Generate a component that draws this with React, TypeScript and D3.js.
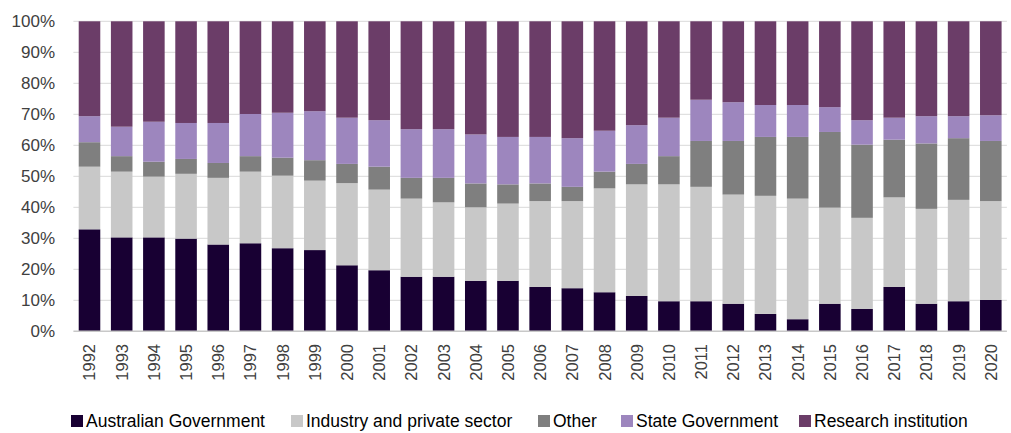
import React from "react";
import * as d3 from "d3";

const years = ["1992","1993","1994","1995","1996","1997","1998","1999","2000","2001","2002","2003","2004","2005","2006","2007","2008","2009","2010","2011","2012","2013","2014","2015","2016","2017","2018","2019","2020"];

const australianGovernment = [32.9,30.3,30.3,29.9,28.0,28.4,26.8,26.2,21.3,19.7,17.6,17.6,16.3,16.3,14.3,13.9,12.6,11.4,9.7,9.7,8.9,5.6,3.9,8.9,7.2,14.3,8.9,9.7,10.1];
const industryPrivate = [20.2,21.2,19.6,20.9,21.5,23.1,23.4,22.4,26.5,26.0,25.2,24.0,23.7,24.9,27.7,28.1,33.5,36.0,37.7,36.9,35.2,38.1,38.9,31.0,29.4,28.9,30.6,32.7,31.9];
const other = [7.9,5.0,4.8,4.8,4.8,5.0,5.8,6.6,6.2,7.4,6.7,7.9,7.7,6.2,5.7,4.6,5.4,6.6,9.1,14.8,17.3,19.0,19.9,24.4,23.6,18.6,21.1,19.9,19.4];
const stateGovernment = [8.4,9.5,12.9,11.6,12.9,13.6,14.5,15.8,14.9,15.0,15.7,15.7,15.8,15.3,15.0,15.7,13.2,12.5,12.4,13.3,12.5,10.3,10.3,8.0,7.9,7.1,8.8,7.1,8.3];
const researchInstitution = [30.6,34.0,32.4,32.8,32.8,29.9,29.5,29.0,31.1,31.9,34.8,34.8,36.5,37.3,37.3,37.7,35.3,33.5,31.1,25.3,26.1,27.0,27.0,27.7,31.9,31.1,30.6,30.6,30.3];

const seriesNames = ["Australian Government","Industry and private sector","Other","State Government","Research institution"];
const seriesColors = ["#180033","#c8c8c8","#7f7f7f","#9d86be","#6b3d68"];
const yTicks = [0,10,20,30,40,50,60,70,80,90,100];

const W = 1011, H = 433;
const left = 73.4, right = 1006.9, top = 21.3, bottom = 331.3;
const legendX = [71, 291, 538, 621, 799];
const FONT = "'Liberation Sans', Arial, sans-serif";

export default function App() {
  const seriesValues = [australianGovernment, industryPrivate, other, stateGovernment, researchInstitution];
  const rows = years.map((y, i) => {
    const r: any = { year: y };
    seriesNames.forEach((n, k) => (r[n] = seriesValues[k][i]));
    return r;
  });
  const stacked = d3.stack().keys(seriesNames).offset(d3.stackOffsetExpand)(rows as any);
  const x = d3.scaleBand().domain(years).range([left, right]).paddingInner(0.33).paddingOuter(0.165);
  const y = d3.scaleLinear().domain([0, 1]).range([bottom, top]);

  return (
    <svg width={W} height={H} style={{ position: "absolute", left: 0, top: 0, display: "block", background: "#fff" }} fontFamily={FONT}>
      {yTicks.map((t) => (
        <g key={t}>
          {t > 0 && (
            <line x1={left} x2={right} y1={y(t / 100)} y2={y(t / 100)} stroke="#d9d9d9" strokeWidth={1} />
          )}
          <text x={55} y={y(t / 100)} textAnchor="end" dominantBaseline="central" fontSize={17} fill="#404040">
            {t}%
          </text>
        </g>
      ))}
      {stacked.map((s, k) => (
        <g key={k} fill={seriesColors[k]}>
          {s.map((d, i) => (
            <rect
              key={i}
              x={x(years[i])}
              width={x.bandwidth()}
              y={y(d[1])}
              height={Math.max(0, y(d[0]) - y(d[1]))}
            />
          ))}
        </g>
      ))}
      <line x1={left} x2={right} y1={bottom} y2={bottom} stroke="#c8c8c8" strokeWidth={1.5} />
      {years.map((yr) => (
        <text
          key={yr}
          transform={`translate(${(x(yr) as number) + x.bandwidth() / 2},344) rotate(-90)`}
          textAnchor="end"
          dominantBaseline="central"
          fontSize={16.5}
          fill="#404040"
        >
          {yr}
        </text>
      ))}
      {seriesNames.map((n, k) => (
        <g key={n} transform={`translate(${legendX[k]},415)`}>
          <rect x={0} y={0} width={12} height={12} fill={seriesColors[k]} />
          <text x={15} y={12} fontSize={17.5} fill="#000">
            {n}
          </text>
        </g>
      ))}
    </svg>
  );
}
